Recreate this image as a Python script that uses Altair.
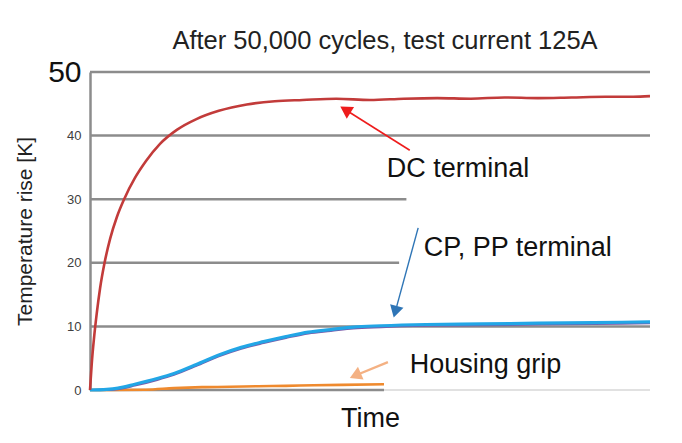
import altair as alt
import pandas as pd

FONT = "Liberation Sans"

# ---- data ----
title_text = "After 50,000 cycles, test current 125A"
y_ticks = [0, 10, 20, 30, 40, 50]

dc_t = [0, 0.3, 0.7, 1.2, 1.8, 2.6, 3.6, 4.8, 6.2, 8, 10, 12.5, 15.5, 19, 23, 28, 33, 38, 44,
        50, 56, 62, 68, 74, 80, 86, 92, 97, 100]
dc_v = [0, 4, 8, 12, 16, 20, 23.8, 27.2, 30.2, 33.3, 36, 38.7, 40.9, 42.6, 43.9, 44.9, 45.4, 45.6, 45.8,
        45.6, 45.8, 45.9, 45.8, 46.0, 45.9, 46.0, 46.1, 46.1, 46.2]

cp_t = [0, 3, 5, 8, 12, 15, 19, 23, 27, 31, 35, 39, 43, 47, 52, 60, 70, 80, 90, 100]
cp_v = [0, 0.1, 0.3, 0.9, 1.8, 2.6, 4.0, 5.5, 6.7, 7.6, 8.4, 9.1, 9.5, 9.9, 10.1, 10.3, 10.4, 10.5, 10.6, 10.7]
pp_v = [0, 0.0, 0.15, 0.7, 1.6, 2.4, 3.8, 5.3, 6.5, 7.4, 8.2, 8.9, 9.3, 9.7, 9.9, 10.1, 10.2, 10.3, 10.4, 10.5]

hg_t = [0, 10, 15, 20, 25, 30, 35, 40, 45, 52.5]
hg_v = [0, 0.05, 0.3, 0.45, 0.5, 0.6, 0.65, 0.75, 0.8, 0.9]

grid_y = [50, 40, 30, 20, 10, 0]
grid_end = [100, 100, 56.5, 55.2, 100, 52.5]
zero_tail = [52.5, 100]

labels = ["DC terminal", "CP, PP terminal", "Housing grip"]
label_t = [53.0, 59.6, 57.1]
label_v = [33.5, 21.1, 2.7]

arrow_tail_t = [57.1, 58.6, 53.2]
arrow_tail_v = [37.7, 25.5, 4.4]
arrow_head_t = [45.9, 54.6, 47.7]
arrow_head_v = [43.9, 12.6, 2.4]
arrow_angle = [302, 195, 246]
arrow_color = ["#EE1C1C", "#2E75B6", "#F4B183"]
arrow_width = [1.6, 1.4, 2.4]

# ---- shared scales / axes ----
xs = alt.Scale(domain=[0, 100], nice=False, zero=False)
ys = alt.Scale(domain=[0, 50], nice=False)

x_axis = alt.Axis(domain=False, ticks=False, labels=False, grid=False, title="Time",
                  titleFont=FONT, titleFontSize=27, titleFontWeight="normal",
                  titleColor="#111111", titlePadding=15)
y_axis = alt.Axis(values=y_ticks, grid=False, ticks=False, domain=True,
                  domainColor="#8C8C8C", domainWidth=2.5,
                  labelFont=FONT,
                  labelFontSize={"condition": {"test": "datum.value == 50", "value": 30}, "value": 13},
                  labelColor={"condition": {"test": "datum.value == 50", "value": "#111111"}, "value": "#404040"},
                  labelPadding=9, labelOverlap=False,
                  title="Temperature rise [K]", titleFont=FONT, titleFontSize=21,
                  titleFontWeight="normal", titleColor="#222222", titlePadding=12)


def X(f):
    return alt.X(f, type="quantitative", scale=xs, axis=x_axis, title="Time")


def Y(f):
    return alt.Y(f, type="quantitative", scale=ys, axis=y_axis, title="Temperature rise [K]")


grid_df = pd.DataFrame({"y": grid_y, "x0": [0] * len(grid_y), "x1": grid_end})
grid = alt.Chart(grid_df).mark_rule(color="#8C8C8C", strokeWidth=2.5).encode(
    x=X("x0"), x2="x1", y=Y("y"))

tail_df = pd.DataFrame({"y": [0], "x0": [zero_tail[0]], "x1": [zero_tail[1]]})
tail = alt.Chart(tail_df).mark_rule(color="#C4C4C4", strokeWidth=1.2).encode(
    x=X("x0"), x2="x1", y=Y("y"))


def line(ts, vs, color, width):
    df = pd.DataFrame({"t": ts, "v": vs})
    return alt.Chart(df).mark_line(color=color, strokeWidth=width, interpolate="monotone").encode(
        x=X("t"), y=Y("v"))


dc = line(dc_t, dc_v, "#C23B3A", 2.6)
pp = line(cp_t, pp_v, "#7A5BA8", 2.2)
cp = line(cp_t, cp_v, "#22A6E6", 3.2)
hg = line(hg_t, hg_v, "#EF8A2E", 2.6)

arr_df = pd.DataFrame({"x0": arrow_tail_t, "y0": arrow_tail_v,
                       "x1": arrow_head_t, "y1": arrow_head_v,
                       "angle": arrow_angle, "color": arrow_color, "w": arrow_width})
arr_lines = alt.Chart(arr_df).mark_rule().encode(
    x=X("x0"), y=Y("y0"), x2="x1", y2="y1", color=alt.Color("color:N", scale=None),
    strokeWidth=alt.StrokeWidth("w:Q", scale=None))
arr_heads = alt.Chart(arr_df).mark_point(shape="triangle", filled=True, size=190, opacity=1).encode(
    x=X("x1"), y=Y("y1"), angle=alt.Angle("angle:Q", scale=None),
    color=alt.Color("color:N", scale=None))

lab_df = pd.DataFrame({"label": labels, "t": label_t, "v": label_v})
texts = alt.Chart(lab_df).mark_text(align="left", baseline="alphabetic", font=FONT,
                                    fontSize=27, color="#111111").encode(
    x=X("t"), y=Y("v"), text="label:N")

chart = alt.layer(grid, tail, hg, pp, cp, dc, arr_lines, arr_heads, texts).properties(
    width=560, height=318,
    title=alt.TitleParams(title_text, font=FONT, fontSize=25.5, fontWeight="normal",
                          color="#222222", anchor="middle", frame="group", dx=15,
                          offset=3),
    autosize=alt.AutoSizeParams(type="none"),
    padding={"left": 82, "top": 64, "right": 24, "bottom": 45},
    background="white",
).configure_view(stroke=None)

chart.save("out.html", embed_options={"renderer": "svg", "actions": False})
